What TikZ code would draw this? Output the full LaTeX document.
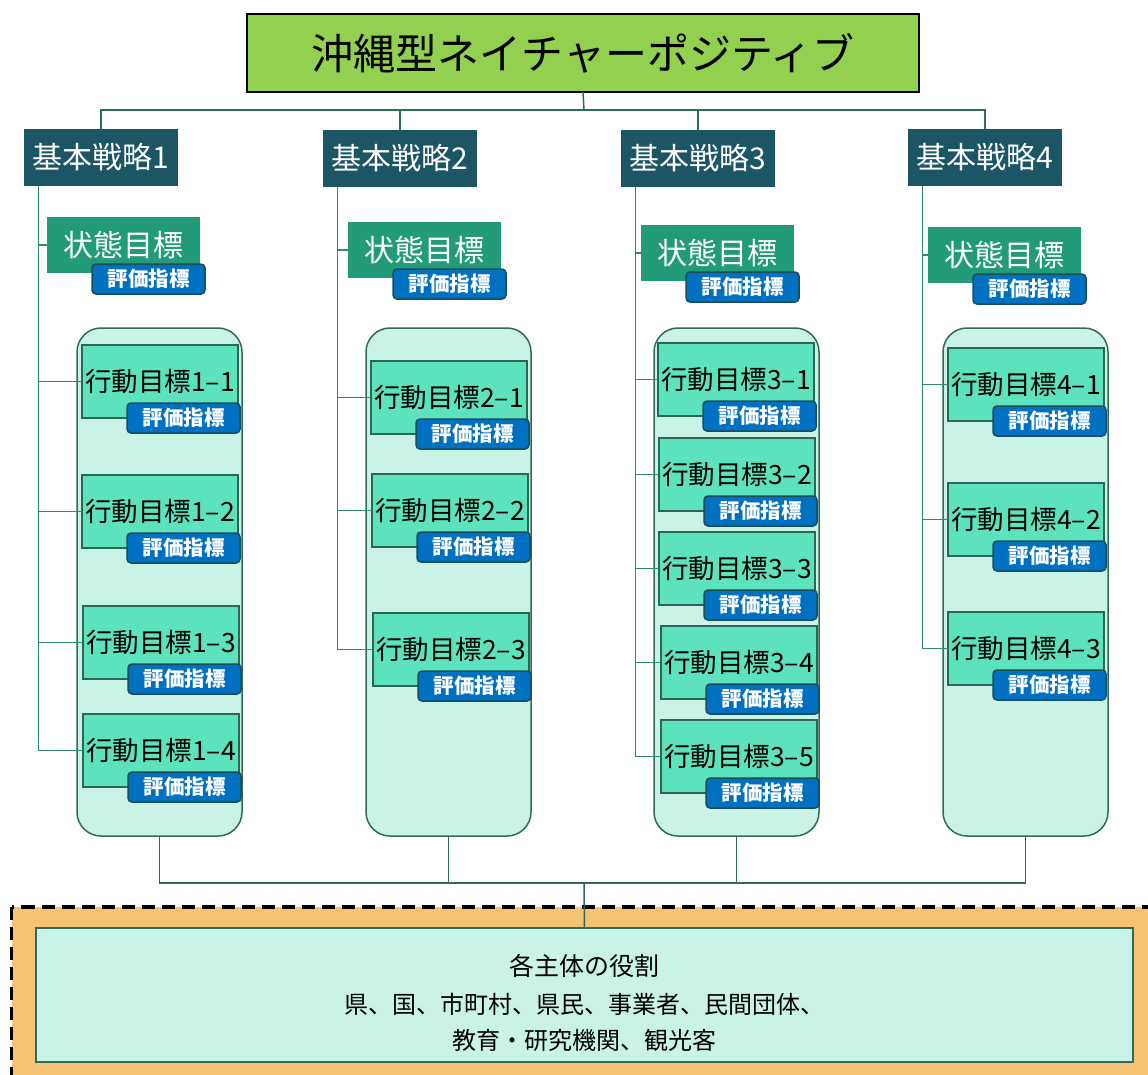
\documentclass[tikz,border=0pt]{standalone}
\usepackage{fontspec}
\setmainfont{Noto Sans CJK JP}
\usetikzlibrary{calc,positioning}
\definecolor{titlefill}{HTML}{92D050}
\definecolor{stratfill}{HTML}{1C5566}
\definecolor{statefill}{HTML}{229B79}
\definecolor{badgefill}{HTML}{0070C0}
\definecolor{badgeline}{HTML}{1A4D5A}
\definecolor{actfill}{HTML}{5DE2BE}
\definecolor{actline}{HTML}{2C6654}
\definecolor{lanefill}{HTML}{C8F3E6}
\definecolor{laneline}{HTML}{2F6B5B}
\definecolor{spinecol}{HTML}{2E8B72}
\definecolor{framefill}{HTML}{F5C373}
\tikzstyle{headline}=[draw=black, fill=titlefill, line width=1.5pt, minimum width=672pt,
  minimum height=78pt, inner sep=0pt, outer sep=0pt, font=\fontsize{42}{48}\selectfont]
\tikzstyle{strategy}=[fill=stratfill, text=white, minimum width=154pt, minimum height=57pt,
  inner sep=0pt, outer sep=0pt, font=\fontsize{30}{36}\selectfont]
\tikzstyle{stategoal}=[fill=statefill, text=white, minimum width=153pt, minimum height=56pt,
  inner sep=0pt, outer sep=0pt, font=\fontsize{30}{36}\selectfont]
\tikzstyle{badge}=[draw=badgeline, fill=badgefill, text=white, line width=1.5pt, rounded corners=4pt,
  minimum width=113pt, minimum height=30pt, inner sep=0pt, outer sep=0pt,
  font=\bfseries\fontsize{20.5}{24}\selectfont]
\tikzstyle{action}=[draw=actline, fill=actfill, line width=1.5pt, minimum width=156pt,
  minimum height=73pt, inner sep=0pt, outer sep=0pt, font=\fontsize{26.5}{30}\selectfont]
\tikzstyle{lane}=[draw=laneline, fill=lanefill, line width=1.5pt, rounded corners=24pt,
  minimum width=165pt, minimum height=508pt, inner sep=0pt, outer sep=0pt]
\tikzstyle{rolebox}=[draw=laneline, fill=lanefill, line width=1.5pt, minimum width=1097pt,
  minimum height=134pt, inner sep=0pt, outer sep=0pt]
\tikzstyle{branch}=[draw=spinecol, line width=1.5pt]
\tikzstyle{trunk}=[draw=laneline, line width=1.5pt]
% action goal with its indicator badge: name, x, y, number
\newcommand{\actgoal}[4]{%
  \node (a#1) [action, anchor=north west] at (#2,#3) {行動目標#4};
  \node (e#1) [badge, anchor=north east] at ($(a#1.south east)+(2,-15)$) {評価指標};}
% state goal with its indicator badge: number, x, y
\newcommand{\stategoal}[3]{%
  \node (g#1) [stategoal, anchor=north west] at (#2,#3) {状態目標};
  \node (f#1) [badge, anchor=north east] at ($(g#1.south east)+(5,-9)$) {評価指標};}

\begin{document}
\begin{tikzpicture}[x=1pt,y=-1pt]
  \useasboundingbox (0,0) rectangle (1148,1074);

  % bottom frame, runs past the page edge
  \path[draw=black, fill=framefill, line width=3.5pt, dash pattern=on 13pt off 7pt]
    (11.5,907) rectangle (1170,1100);

  \node (title) [headline] at (583,53) {沖縄型ネイチャーポジティブ};
  \node (s1) [strategy, anchor=north west] at (24,129) {基本戦略1};
  \node (s2) [strategy, anchor=north west] at (323,130) {基本戦略2};
  \node (s3) [strategy, anchor=north west] at (621,130) {基本戦略3};
  \node (s4) [strategy, anchor=north west] at (908,129) {基本戦略4};

  \node (l1) [lane, anchor=north west] at (77,328) {};
  \node (l2) [lane, anchor=north west] at (366,328) {};
  \node (l3) [lane, anchor=north west] at (654,328) {};
  \node (l4) [lane, anchor=north west] at (943,328) {};

  \stategoal{1}{47}{217}
  \stategoal{2}{348}{222}
  \stategoal{3}{641}{225}
  \stategoal{4}{928}{227}

  \actgoal{11}{82}{345}{1–1}
  \actgoal{12}{82}{475}{1–2}
  \actgoal{13}{83}{606}{1–3}
  \actgoal{14}{83}{714}{1–4}
  \actgoal{21}{371}{361}{2–1}
  \actgoal{22}{372}{474}{2–2}
  \actgoal{23}{373}{613}{2–3}
  \actgoal{31}{658}{343}{3–1}
  \actgoal{32}{659}{438}{3–2}
  \actgoal{33}{659}{532}{3–3}
  \actgoal{34}{661}{626}{3–4}
  \actgoal{35}{661}{720}{3–5}
  \actgoal{41}{948}{348}{4–1}
  \actgoal{42}{948}{483}{4–2}
  \actgoal{43}{948}{612}{4–3}

  \node (roles) [rolebox, anchor=north west] at (36,928) {};
  \node (rolestext) [align=center, font=\fontsize{24}{36}\selectfont] at ($(roles.center)+(0,8)$)
    {{\fontsize{25}{30}\selectfont 各主体の役割}\\[2pt]県、国、市町村、県民、事業者、民間団体、\\教育・研究機関、観光客};

  % title to strategies
  \coordinate (hub) at (584,110);
  \draw[trunk] (title.south) -- (hub);
  \foreach \i in {1,...,4}
    \draw[trunk] (hub) -| (s\i.north);

  % strategy spines
  \foreach \i in {1,...,4}
    \coordinate (sp\i) at ($(s\i.south west)+(14.5,0)$);
  \draw[branch] (sp1) |- (g1.west);
  \draw[branch] (sp2) |- (g2.west);
  \draw[branch] (sp3) |- (g3.west);
  \draw[branch] (sp4) |- (g4.west);
  \foreach \j in {11,12,13,14} \draw[branch] (sp1) |- (a\j.west);
  \foreach \j in {21,22,23} \draw[branch] (sp2) |- (a\j.west);
  \foreach \j in {31,32,33,34,35} \draw[branch] (sp3) |- (a\j.west);
  \foreach \j in {41,42,43} \draw[branch] (sp4) |- (a\j.west);

  % lanes to roles
  \coordinate (bhub) at (584,883);
  \foreach \i in {1,...,4}
    \draw[trunk] (l\i.south) |- (bhub);
  \draw[trunk] (bhub) -- (roles.north);
\end{tikzpicture}
\end{document}
